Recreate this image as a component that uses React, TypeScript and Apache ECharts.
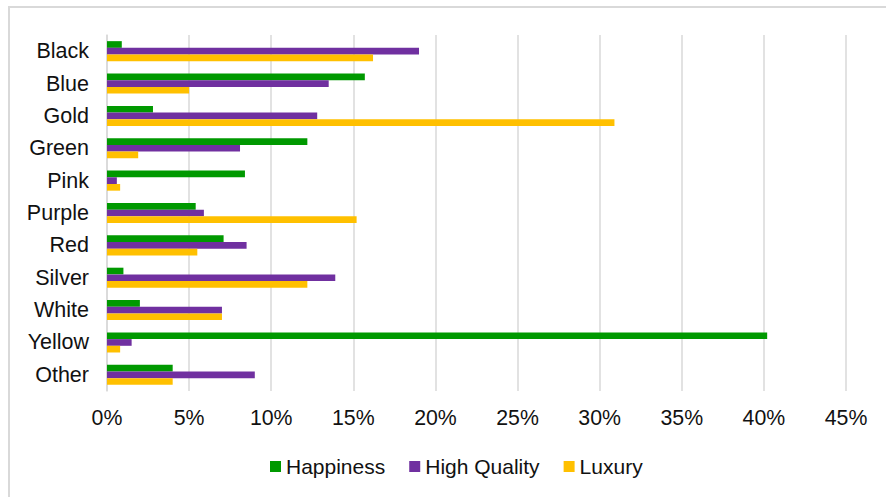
import React, { useEffect, useRef } from "react";
import * as echarts from "echarts";

const categories = ["Black", "Blue", "Gold", "Green", "Pink", "Purple", "Red", "Silver", "White", "Yellow", "Other"];
const happiness = [0.9, 15.7, 2.8, 12.2, 8.4, 5.4, 7.1, 1.0, 2.0, 40.2, 4.0];
const highQuality = [19.0, 13.5, 12.8, 8.1, 0.6, 5.9, 8.5, 13.9, 7.0, 1.5, 9.0];
const luxury = [16.2, 5.0, 30.9, 1.9, 0.8, 15.2, 5.5, 12.2, 7.0, 0.8, 4.0];
const seriesNames = ["Happiness", "High Quality", "Luxury"];
const xTicks = { min: 0, max: 45, interval: 5 };

const colors = ["#009900", "#7030A0", "#FFC000"];
const FONT = "'Liberation Sans', Arial, sans-serif";

export default function App() {
  const ref = useRef<HTMLDivElement>(null);
  useEffect(() => {
    if (!ref.current) return;
    const chart = echarts.init(ref.current, null, { renderer: "svg" });
    const data = [happiness, highQuality, luxury];
    chart.setOption({
      animation: false,
      backgroundColor: "#ffffff",
      textStyle: { fontFamily: FONT },
      graphic: [
        {
          type: "rect",
          shape: { x: 9, y: 7, width: 900, height: 520 },
          style: { fill: "none", stroke: "#d9d9d9", lineWidth: 2 },
          silent: true,
        },
      ],
      grid: { left: 107, right: 40, top: 35, bottom: 106, containLabel: false },
      legend: {
        data: seriesNames,
        bottom: 15,
        left: 265,
        itemWidth: 11,
        itemHeight: 11,
        itemGap: 24,
        icon: "rect",
        textStyle: { fontSize: 21, color: "#111", fontFamily: FONT },
      },
      xAxis: {
        type: "value",
        min: xTicks.min,
        max: xTicks.max,
        interval: xTicks.interval,
        axisLine: { show: false },
        axisTick: { show: false },
        axisLabel: {
          formatter: "{value}%",
          fontSize: 21.3,
          color: "#111",
          margin: 16,
          fontFamily: FONT,
        },
        splitLine: { show: true, lineStyle: { color: "#d9d9d9", width: 1.5 } },
      },
      yAxis: {
        type: "category",
        data: categories,
        inverse: true,
        axisLine: { show: true, lineStyle: { color: "#d9d9d9", width: 1.5 } },
        axisTick: { show: false },
        axisLabel: { fontSize: 21.5, color: "#111", margin: 18, fontFamily: FONT },
      },
      series: seriesNames.map((name, i) => ({
        name,
        type: "bar",
        data: data[i],
        itemStyle: { color: colors[i] },
        barGap: "0%",
        barCategoryGap: "38%",
      })),
    });
    return () => chart.dispose();
  }, []);
  return (
    <div
      ref={ref}
      style={{ position: "fixed", left: 0, top: 0, width: 886, height: 497 }}
    />
  );
}
